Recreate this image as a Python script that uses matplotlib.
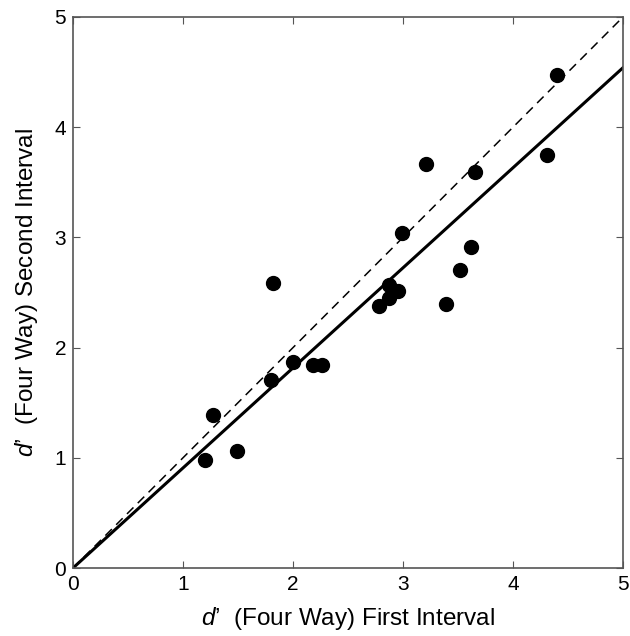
import matplotlib
matplotlib.use('Agg')
import matplotlib.pyplot as plt
import numpy as np

# d' values, first interval (x) vs second interval (y)
first_interval = [1.20, 1.27, 1.49, 1.82, 1.80, 2.00, 2.18, 2.26, 2.78, 2.87,
                  2.87, 2.95, 2.99, 3.21, 3.39, 3.52, 3.62, 3.65, 4.31, 4.40]
second_interval = [0.98, 1.39, 1.06, 2.59, 1.71, 1.87, 1.84, 1.84, 2.38, 2.45,
                   2.57, 2.51, 3.04, 3.67, 2.40, 2.70, 2.91, 3.59, 3.75, 4.47]
fit_slope = 0.908  # fitted line through origin
ticks = [0, 1, 2, 3, 4, 5]

plt.rcParams['font.family'] = ['Liberation Sans', 'DejaVu Sans']
plt.rcParams['mathtext.fontset'] = 'custom'
plt.rcParams['mathtext.it'] = 'Liberation Sans:italic'
plt.rcParams['mathtext.rm'] = 'Liberation Sans'

fig = plt.figure(figsize=(6.3, 6.36), dpi=100)
ax = fig.add_axes([73/630, 1 - 568/636, 550/630, 551/636])

xs = np.array([0, 5])
ax.plot(xs, xs, color='black', linestyle=(0, (6, 4)), linewidth=1.1)
ax.plot(xs, fit_slope * xs, color='black', linewidth=2.2)
ax.plot(first_interval, second_interval, 'o', color='black', markersize=10, zorder=3)

ax.set_xlim(0, 5)
ax.set_ylim(0, 5)
ax.set_xticks(ticks)
ax.set_yticks(ticks)
ax.tick_params(direction='in', top=True, right=True, length=5, width=0.8,
               color='#555555', labelsize=15, pad=5)
for s in ax.spines.values():
    s.set_color('#555555')
    s.set_linewidth(1.2)

ax.set_xlabel("$d$\u2019  (Four Way) First Interval", fontsize=17.5, labelpad=8)
ax.set_ylabel("$d$\u2019  (Four Way) Second Interval", fontsize=17.5, labelpad=10)

fig.savefig('out.png', dpi=100)
plt.close()
